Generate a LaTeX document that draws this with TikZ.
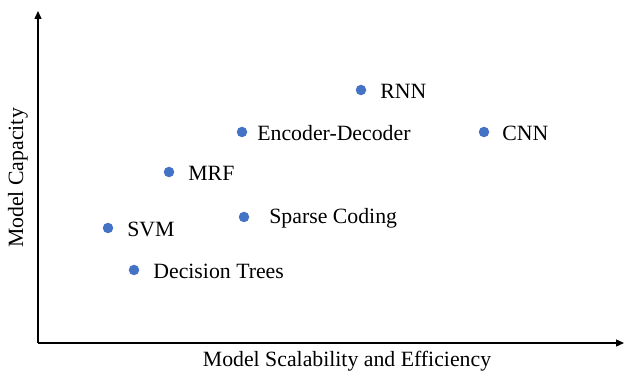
\documentclass[tikz,border=0pt]{standalone}
\usepackage{fontspec}
\setmainfont{Liberation Serif}
\usetikzlibrary{arrows.meta}
\definecolor{dotblue}{HTML}{4472C4}
\begin{document}
\begin{tikzpicture}[x=0.02cm,y=-0.02cm,
  pt/.style={circle,fill=dotblue,inner sep=0pt,minimum size=0.21cm},
  lbl/.style={anchor=west,inner sep=0pt,yshift=-0.02cm,font=\fontsize{12.4pt}{14pt}\selectfont},
  axis/.style={line width=0.7pt,-{Triangle[length=0.16cm,width=0.14cm]}}]
\useasboundingbox (0,0) rectangle (625,374);
\coordinate (o) at (38,343);
\coordinate (ytop) at (38,11);
\coordinate (xend) at (624,343);
\draw[axis] (o) -- (ytop);
\draw[axis] (o) -- (xend);
\node[font=\fontsize{12.4pt}{14pt}\selectfont] (xl) at (347,361) {Model Scalability and Efficiency};
\node[font=\fontsize{12.4pt}{14pt}\selectfont,rotate=90] (yl) at (18,178) {Model Capacity};
\node[pt] (rnn) at (361,90) {};
\node[lbl] (rnnl) at (380,90) {RNN};
\node[pt] (ed) at (242,132) {};
\node[lbl] (edl) at (257,132) {Encoder-Decoder};
\node[pt] (cnn) at (484,132) {};
\node[lbl] (cnnl) at (502,132) {CNN};
\node[pt] (mrf) at (169,172) {};
\node[lbl] (mrfl) at (188,172) {MRF};
\node[pt] (sc) at (244,217) {};
\node[lbl] (scl) at (269,217) {Sparse Coding};
\node[pt] (svm) at (108,228) {};
\node[lbl] (svml) at (127,228) {SVM};
\node[pt] (dt) at (134,270) {};
\node[lbl] (dtl) at (153,270) {Decision Trees};
\end{tikzpicture}
\end{document}
